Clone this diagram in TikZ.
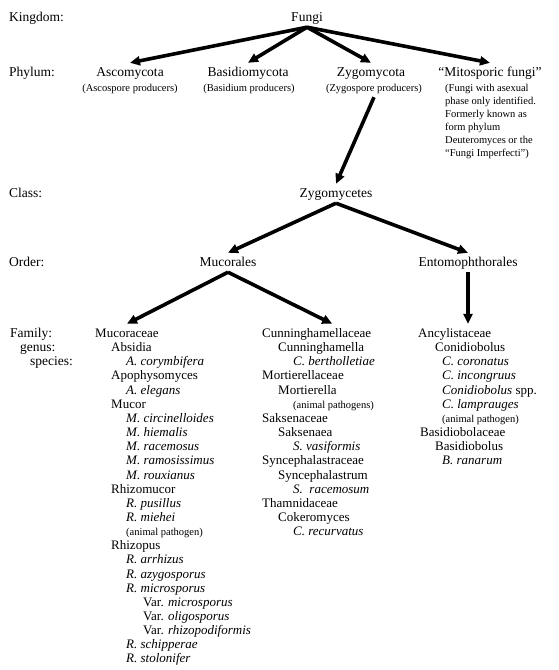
\documentclass[tikz,border=0pt]{standalone}
\usepackage{fontspec}
\setmainfont{Liberation Serif}
\usepackage{tikz}
\usetikzlibrary{arrows.meta}
\usetikzlibrary{calc}
\tikzstyle{rank}=[anchor=base west, inner sep=0pt, font=\fontsize{13.5}{14}\selectfont]
\tikzstyle{taxon}=[anchor=base, inner sep=2.5pt, text height=11pt, text depth=3pt, font=\fontsize{13.5}{14}\selectfont]
\tikzstyle{note}=[anchor=base, inner sep=2.5pt, text depth=3pt, font=\fontsize{10.5}{13}\selectfont]
\tikzstyle{notepar}=[anchor=north west, align=left, inner sep=0pt, font=\fontsize{10.5}{13}\selectfont]
\tikzstyle{listed}=[anchor=base west, inner xsep=0pt, inner ysep=2.5pt, text height=11pt, text depth=3pt, font=\fontsize{13}{14}\selectfont]
\tikzstyle{thickarrow}=[line width=3.6pt, -{Triangle[length=10pt,width=9pt]}]
\newcommand{\pathnote}[1]{{\fontsize{10.5}{13}\selectfont #1}}

\begin{document}
\begin{tikzpicture}[x=1pt,y=-1pt]
	\useasboundingbox (0,0) rectangle (558,670);
	% ranks
	\node[rank] (kingdom) at (9,21.5) {Kingdom:};
	\node[rank] (phylum) at (9,76.5) {Phylum:};
	\node[rank] (class) at (9,197.5) {Class:};
	\node[rank] (order) at (9,266.5) {Order:};
	\node[rank] (family) at (10,337.5) {Family:};
	\node[rank] (genus) at (20,351.6) {genus:};
	\node[rank] (species) at (30,365.8) {species:};
	% tree
	\node[taxon] (fungi) at (307,21.5) {Fungi};
	\node[taxon] (asco) at (130,76.5) {Ascomycota};
	\node[note] (ascosub) at (130,91.5) {(Ascospore producers)};
	\node[taxon] (basidio) at (248,76.5) {Basidiomycota};
	\node[note] (basidiosub) at (249,91.5) {(Basidium producers)};
	\node[taxon] (zygo) at (371,76.5) {Zygomycota};
	\node[note] (zygosub) at (374,91.5) {(Zygospore producers)};
	\node[taxon] (mito) at (490,76.5) {“Mitosporic fungi”};
	\node[notepar] (mitosub) at (445,84.5) {(Fungi with asexual\\phase only identified.\\Formerly known as\\form phylum\\Deuteromyces or the\\“Fungi Imperfecti”)};
	\node[taxon] (zygocls) at (336,197.5) {Zygomycetes};
	\node[taxon] (mucorales) at (228,266.5) {Mucorales};
	\node[taxon] (ento) at (468,266.5) {Entomophthorales};
	% families, genera, species
	\foreach \dx/\txt [count=\i] in {0/Mucoraceae, 16/Absidia, 31/\textit{A. corymbifera}, 16/Apophysomyces, 31/\textit{A. elegans}, 16/Mucor, 31/\textit{M. circinelloides}, 31/\textit{M. hiemalis}, 31/\textit{M. racemosus}, 31/\textit{M. ramosissimus}, 31/\textit{M. rouxianus}, 16/Rhizomucor, 31/\textit{R. pusillus}, 31/\textit{R. miehei}, 31/\pathnote{(animal pathogen)}, 16/Rhizopus, 31/\textit{R. arrhizus}, 31/\textit{R. azygosporus}, 31/\textit{R. microsporus}, 48/{Var. \textit{microsporus}}, 48/{Var. \textit{oligosporus}}, 48/{Var. \textit{rhizopodiformis}}, 31/\textit{R. schipperae}, 31/\textit{R. stolonifer}}
		\node[listed] (mu\i) at ({95+\dx},{337.5+(\i-1)*14.15}) {\txt};
	\foreach \dx/\txt [count=\i] in {0/Cunninghamellaceae, 16/Cunninghamella, 31/\textit{C. bertholletiae}, 0/Mortierellaceae, 16/Mortierella, 31/\pathnote{(animal pathogens)}, 0/Saksenaceae, 16/Saksenaea, 31/\textit{S. vasiformis}, 0/Syncephalastraceae, 16/Syncephalastrum, 31/\textit{S.~ racemosum}, 0/Thamnidaceae, 16/Cokeromyces, 31/\textit{C. recurvatus}}
		\node[listed] (cu\i) at ({262+\dx},{337.5+(\i-1)*14.15}) {\txt};
	\foreach \dx/\txt [count=\i] in {0/Ancylistaceae, 17/Conidiobolus, 24/\textit{C. coronatus}, 24/\textit{C. incongruus}, 24/{\textit{Conidiobolus} spp.}, 24/\textit{C. lamprauges}, 24/\pathnote{(animal pathogen)}, 2/Basidiobolaceae, 17/Basidiobolus, 24/\textit{B. ranarum}}
		\node[listed] (an\i) at ({418+\dx},{337.5+(\i-1)*14.15}) {\txt};
	\coordinate (cutip) at ($(cu1.north)+(15.5,0)$);
	% arrows
	\draw[thickarrow] (fungi.south) -- (asco.north);
	\draw[thickarrow] (fungi.south) -- (basidio.north);
	\draw[thickarrow] (fungi.south) -- (zygo.north);
	\draw[thickarrow] (fungi.south) -- (mito.north);
	\draw[thickarrow] (zygosub.south) -- (zygocls.north);
	\draw[thickarrow] (zygocls.south) -- (mucorales.north);
	\draw[thickarrow] (zygocls.south) -- (ento.north);
	\draw[thickarrow] (mucorales.south) -- (mu1.north);
	\draw[thickarrow] (mucorales.south) -- (cutip);
	\draw[thickarrow] (ento.south) -- (ento.south |- an1.north);
\end{tikzpicture}
\end{document}
